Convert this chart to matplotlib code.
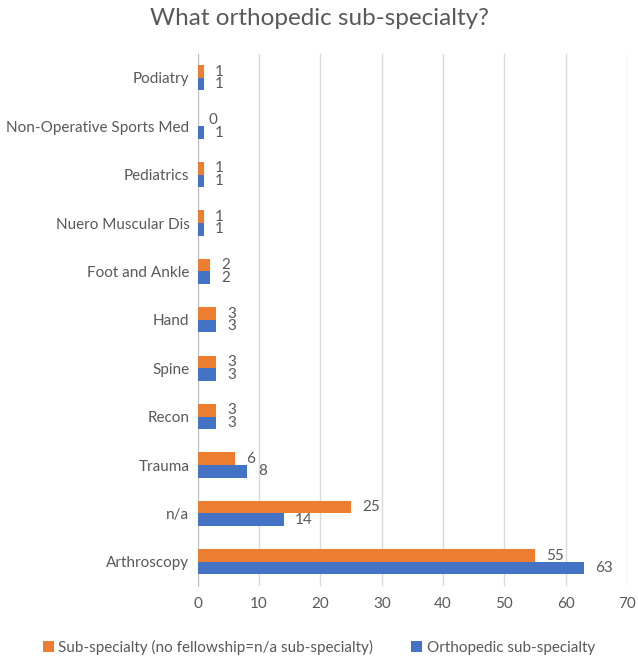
import matplotlib.pyplot as plt
import numpy as np

plt.rcParams['font.family'] = ['Lato', 'DejaVu Sans']

categories = ['Arthroscopy', 'n/a', 'Trauma', 'Recon', 'Spine', 'Hand',
              'Foot and Ankle', 'Nuero Muscular Dis', 'Pediatrics',
              'Non-Operative Sports Med', 'Podiatry']
sub_specialty = [55, 25, 6, 3, 3, 3, 2, 1, 1, 0, 1]
ortho_specialty = [63, 14, 8, 3, 3, 3, 2, 1, 1, 1, 1]

orange = '#ED7D31'
blue = '#4472C4'
grey = '#595959'

fig = plt.figure(figsize=(6.38, 6.58), dpi=100)
ax = fig.add_axes([0.310, 0.1094, 0.673, 0.809])

y = np.arange(len(categories))
h = 0.26
b1 = ax.barh(y + h / 2, sub_specialty, height=h, color=orange,
             label='Sub-specialty (no fellowship=n/a sub-specialty)', zorder=3)
b2 = ax.barh(y - h / 2, ortho_specialty, height=h, color=blue,
             label='Orthopedic sub-specialty', zorder=3)
ax.bar_label(b1, padding=8, color=grey, fontsize=11)
ax.bar_label(b2, padding=8, color=grey, fontsize=11)

ax.set_xlim(0, 70)
ax.set_ylim(-0.5, len(categories) - 0.5)
ax.set_xticks(range(0, 71, 10))
ax.set_yticks(y)
ax.set_yticklabels(categories)
ax.tick_params(length=0, colors=grey, labelsize=11)
ax.tick_params(axis='x', pad=8)
ax.tick_params(axis='y', pad=6)
ax.grid(axis='x', color='#D9D9D9', linewidth=1, zorder=0)
for s in ['top', 'right', 'bottom']:
    ax.spines[s].set_visible(False)
ax.spines['left'].set_color('#BFBFBF')

fig.suptitle('What orthopedic sub-specialty?', y=0.988, fontsize=17.5, color=grey)
fig.legend(loc='center', bbox_to_anchor=(0.5, 0.0167), ncol=2, frameon=False,
           fontsize=11, labelcolor=grey, handlelength=0.7, handleheight=0.7,
           handletextpad=0.3, columnspacing=2.5)

fig.savefig('out.png', dpi=100)
